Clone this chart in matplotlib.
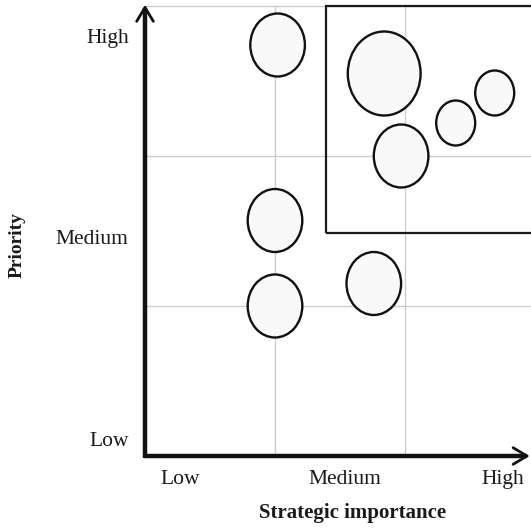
import matplotlib
matplotlib.use("Agg")
import matplotlib.pyplot as plt
from matplotlib.patches import Ellipse, Rectangle

# Project portfolio: strategic importance (x) vs priority (y), bubble = size
bubble_x = [1.02, 1.84, 2.39, 2.69, 1.97, 1.00, 1.00, 1.76]
bubble_y = [2.74, 2.55, 2.22, 2.42, 2.00, 1.57, 1.00, 1.15]
bubble_r = [0.21, 0.28, 0.15, 0.15, 0.21, 0.21, 0.21, 0.21]

level_labels = ["Low", "Medium", "High"]
x_label_pos = [0.27, 1.54, 2.75]
y_label_pos = [0.10, 1.445, 2.785]

focus_box = (1.39, 1.485, 3.0, 3.0)  # x0, y0, x1, y1

W, H = 531, 528
fig = plt.figure(figsize=(W / 100, H / 100), dpi=100)
plt.rcParams["font.family"] = ["Liberation Serif", "DejaVu Serif"]

left_px, right_px, bottom_px, top_px = 145, 531, 456, 4
ax = fig.add_axes([left_px / W, 1 - bottom_px / H,
                   (right_px - left_px) / W, (bottom_px - top_px) / H])
xmax = (right_px - left_px) / 130
ymax = (bottom_px - top_px) / 150
ax.set_xlim(0, xmax)
ax.set_ylim(0, ymax)
for s in ax.spines.values():
    s.set_visible(False)
ax.set_xticks([])
ax.set_yticks([])
ax.patch.set_alpha(0)

grid_kw = dict(color="#cccccc", lw=1.0, zorder=1)
for gx in [1, 2]:
    ax.plot([gx, gx], [0, 3.0], **grid_kw)
for gy in [1, 2, 3]:
    ax.plot([0, xmax], [gy, gy], **grid_kw)

x0, y0, x1, y1 = focus_box
ax.add_patch(Rectangle((x0, y0), x1 - x0, y1 - y0, fill=False,
                       ec="#1a1a1a", lw=1.6, zorder=2))

for x, y, r in zip(bubble_x, bubble_y, bubble_r):
    ax.add_patch(Ellipse((x, y), 2 * r, 2 * r, fc="#f9f9f9",
                         ec="#111111", lw=1.7, zorder=3))

# axes drawn as thick shafts with open arrowheads
x_tip, y_tip = xmax - 0.01, ymax - 0.005
ax.plot([-0.01, x_tip - 0.02], [0, 0], color="#111111", lw=3.2,
        solid_capstyle="butt", clip_on=False, zorder=5)
ax.plot([0, 0], [-0.01, y_tip - 0.02], color="#111111", lw=3.2,
        solid_capstyle="butt", clip_on=False, zorder=5)
head_kw = dict(arrowstyle="->,head_length=1.0,head_width=0.6",
               lw=2.0, color="#111111", shrinkA=0, shrinkB=0)
ax.annotate("", xy=(x_tip, 0), xytext=(x_tip - 0.3, 0),
            arrowprops=head_kw, annotation_clip=False, zorder=5)
ax.annotate("", xy=(0, y_tip), xytext=(0, y_tip - 0.3),
            arrowprops=head_kw, annotation_clip=False, zorder=5)

fs = 15.5
for lab, xp in zip(level_labels, x_label_pos):
    ax.text(xp, -0.155, lab, ha="center", va="center", fontsize=fs,
            color="#1a1a1a")
for lab, yp in zip(level_labels, y_label_pos):
    ax.text(-0.125, yp, lab, ha="right", va="center", fontsize=fs,
            color="#1a1a1a")

fig.text(353 / W, 1 - 513 / H, "Strategic importance", ha="center",
         va="center", fontsize=15, fontweight="bold", color="#1a1a1a")
fig.text(17.5 / W, 1 - 245 / H, "Priority", ha="center", va="center",
         rotation=90, fontsize=14, fontweight="bold", color="#1a1a1a")

fig.savefig("out.png", dpi=100)
